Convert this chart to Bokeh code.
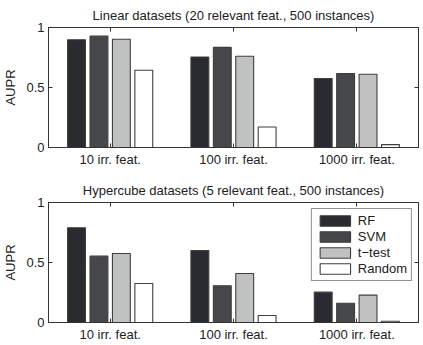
from bokeh.plotting import figure
from bokeh.models import (ColumnDataSource, LinearAxis, FixedTicker, Range1d,
                          Legend, LegendItem, CustomLabelingPolicy)
from bokeh.layouts import column
from bokeh.transform import dodge
from bokeh.embed import file_html
from bokeh.resources import INLINE

# --- data -------------------------------------------------------------
groups = ["10 irr. feat.", "100 irr. feat.", "1000 irr. feat."]
group_pos = [1, 2, 3]
methods = ["RF", "SVM", "t\u2212test", "Random"]

linear_rf = [0.898, 0.754, 0.575]
linear_svm = [0.928, 0.834, 0.616]
linear_ttest = [0.902, 0.760, 0.610]
linear_random = [0.644, 0.171, 0.024]

hyper_rf = [0.789, 0.600, 0.253]
hyper_svm = [0.553, 0.306, 0.161]
hyper_ttest = [0.575, 0.408, 0.228]
hyper_random = [0.325, 0.058, 0.011]

y_ticks = [0, 0.5, 1]
y_tick_labels = ["0", "0.5", "1"]

# --- style ------------------------------------------------------------
fills = ["#2a2b30", "#46474b", "#c0c1c1", "#ffffff"]
edge = "#3f3f3f"
offsets = [-0.2727, -0.0909, 0.0909, 0.2727]
bar_w = 0.145
FONT = "Liberation Sans"
FS = "13px"
AX = "#333333"
TXT = "#222222"

# the mirrored box axes carry tick marks only
no_labels = CustomLabelingPolicy(code="""
for (const i of Array.from(indices)) { indices.unset(i) }
return indices
""")


def tick_only_axis(ticks):
    return LinearAxis(ticker=FixedTicker(ticks=ticks), major_tick_in=4,
                      major_tick_out=0, minor_tick_line_color=None,
                      axis_line_color=AX, major_tick_line_color=AX,
                      major_label_policy=no_labels,
                      major_label_text_font_size="0px",
                      major_label_standoff=0)


def make_panel(title, series, height, top, bottom, with_legend):
    p = figure(width=423, height=height, output_backend="svg",
               toolbar_location=None, x_range=Range1d(0.5, 3.5),
               y_range=Range1d(0, 1), min_border_left=46,
               min_border_right=5, min_border_top=top,
               min_border_bottom=bottom)
    p.title.text = title
    p.title.align = "center"
    p.title.text_font = FONT
    p.title.text_font_size = FS
    p.title.text_font_style = "normal"
    p.title.text_color = TXT
    p.grid.visible = False
    p.outline_line_color = AX
    p.outline_line_width = 1
    p.background_fill_color = "white"
    p.border_fill_color = "white"

    src = ColumnDataSource(dict(x=group_pos, **{f"s{i}": s for i, s in enumerate(series)}))
    renderers = []
    for i, (name, fc) in enumerate(zip(methods, fills)):
        r = p.vbar(x=dodge("x", offsets[i]), top=f"s{i}", width=bar_w,
                   source=src, fill_color=fc, line_color=edge, line_width=1.1)
        renderers.append((name, r))

    # bottom axis
    xa = p.xaxis[0]
    xa.ticker = FixedTicker(ticks=group_pos)
    xa.major_label_overrides = {g: lbl for g, lbl in zip(group_pos, groups)}
    # left axis
    ya = p.yaxis[0]
    ya.ticker = FixedTicker(ticks=y_ticks)
    ya.major_label_overrides = {t: l for t, l in zip(y_ticks, y_tick_labels)}
    ya.axis_label = "AUPR"
    ya.axis_label_text_font = FONT
    ya.axis_label_text_font_size = FS
    ya.axis_label_text_font_style = "normal"
    ya.axis_label_text_color = TXT
    ya.axis_label_standoff = 5

    for ax in (xa, ya):
        ax.major_tick_in = 4
        ax.major_tick_out = 0
        ax.minor_tick_line_color = None
        ax.axis_line_color = AX
        ax.major_tick_line_color = AX
        ax.major_label_text_font = FONT
        ax.major_label_text_font_size = FS
        ax.major_label_text_color = TXT
        ax.major_label_standoff = 4

    # mirrored ticks on the right and top edges of the box
    p.add_layout(tick_only_axis(y_ticks), "right")
    p.add_layout(tick_only_axis(group_pos), "above")

    if with_legend:
        leg = Legend(items=[LegendItem(label=n, renderers=[r]) for n, r in renderers],
                     location="top_right")
        leg.margin = 6
        leg.padding = 4
        leg.spacing = 1
        leg.glyph_width = 38
        leg.glyph_height = 13
        leg.label_height = 12
        leg.label_standoff = 4
        leg.label_text_font = FONT
        leg.label_text_font_size = FS
        leg.label_text_color = TXT
        leg.border_line_color = TXT
        leg.border_line_width = 1
        leg.background_fill_alpha = 1
        p.add_layout(leg, "center")
    return p


p1 = make_panel("Linear datasets (20 relevant feat., 500 instances)",
                [linear_rf, linear_svm, linear_ttest, linear_random],
                172, 26, 25, False)
p2 = make_panel("Hypercube datasets (5 relevant feat., 500 instances)",
                [hyper_rf, hyper_svm, hyper_ttest, hyper_random],
                173, 30, 23, True)

p = column(p1, p2)
open("out.html", "w").write(file_html(p, INLINE))
